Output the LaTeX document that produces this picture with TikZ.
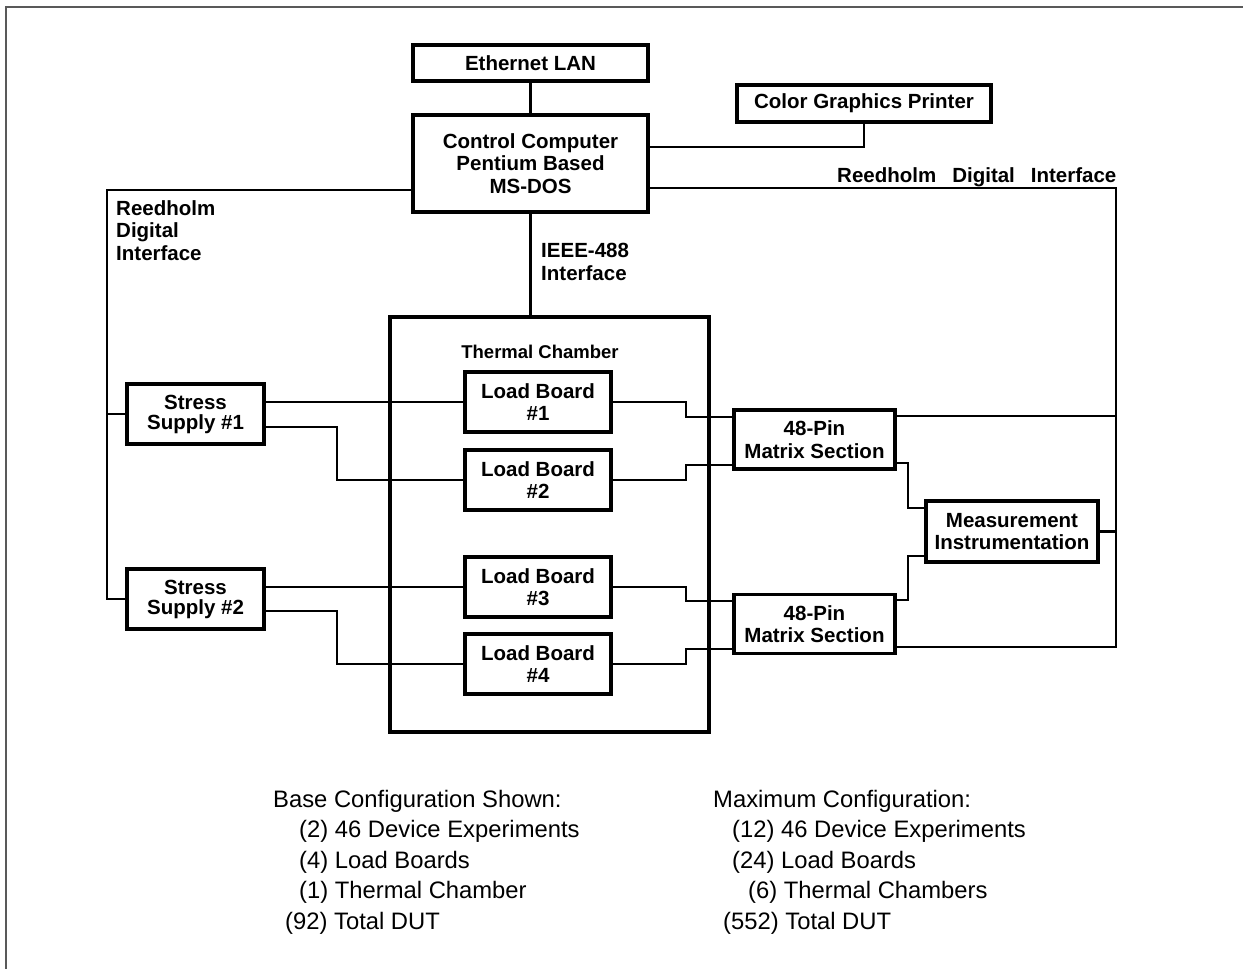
\documentclass[tikz,border=0pt]{standalone}
\usepackage{fontspec}
\setmainfont{Liberation Sans}
\tikzset{
  unit/.style={draw, line width=3.2pt, inner sep=0pt, align=center,
    font=\bfseries\fontsize{20.5}{22.5}\selectfont},
  wire/.style={line width=2.6pt},
  tag/.style={inner sep=0pt, align=left, font=\bfseries\fontsize{20.5}{22.5}\selectfont},
  note/.style={inner sep=0pt, anchor=base west, font=\fontsize{23.8}{28}\selectfont}
}
\begin{document}
\begin{tikzpicture}[x=1pt,y=-1pt]
  \useasboundingbox (0,0) rectangle (1243,969);
  \draw[black!65, line width=1.5pt] (6,969) -- (6,7) -- (1243,7);

  % boxes
  \node[unit, minimum width=235pt, minimum height=36pt] (eth) at (530.5,63) {Ethernet LAN};
  \node[unit, minimum width=235pt, minimum height=97pt] (ctrl) at (530.5,163.5) {Control Computer\\Pentium Based\\MS-DOS};
  \node[unit, minimum width=254pt, minimum height=37pt] (prn) at (864,103.5) {Color Graphics Printer};
  \node[unit, minimum width=319pt, minimum height=415pt] (tc) at (549.5,524.5) {};
  \node[font=\bfseries\fontsize{18.5}{20}\selectfont, inner sep=0pt] (tclabel) at (540,352) {Thermal Chamber};
  \node[unit, minimum width=146pt, minimum height=60pt] (lb1) at (538,402) {Load Board\\\#1};
  \node[unit, minimum width=146pt, minimum height=60pt] (lb2) at (538,480) {Load Board\\\#2};
  \node[unit, minimum width=146pt, minimum height=60pt] (lb3) at (538,587) {Load Board\\\#3};
  \node[unit, minimum width=146pt, minimum height=60pt] (lb4) at (538,664) {Load Board\\\#4};
  \node[unit, minimum width=137pt, minimum height=60pt, font=\bfseries\fontsize{20.5}{20}\selectfont] (ss1) at (195.5,414) {Stress\\Supply \#1};
  \node[unit, minimum width=137pt, minimum height=60pt, font=\bfseries\fontsize{20.5}{20}\selectfont] (ss2) at (195.5,599) {Stress\\Supply \#2};
  \node[unit, minimum width=161pt, minimum height=59pt] (mx1) at (814.5,439.5) {48-Pin\\Matrix Section};
  \node[unit, minimum width=161pt, minimum height=59pt] (mx2) at (814.5,624) {48-Pin\\Matrix Section};
  \node[unit, minimum width=172pt, minimum height=61pt] (meas) at (1012,531.5) {Measurement\\Instrumentation};

  % labels
  \node[tag, anchor=north west] (rdleft) at (116,200) {Reedholm\\Digital\\Interface};
  \node[tag, anchor=base west] (rdright) at (837,182) {Reedholm\hspace{16pt}Digital\hspace{16pt}Interface};
  \node[tag, anchor=north west] (ieee) at (541,243) {IEEE-488\\Interface};

  % bus corners and jogs
  \coordinate (lbus) at (107,190);
  \coordinate (rbus) at (1116,647);
  \coordinate (jl) at (337,0);
  \coordinate (jr) at (686,0);
  \coordinate (jm) at (908,0);

  % connectors
  \draw[wire] (eth) -- (ctrl);
  \draw[wire] (ctrl.east |- 0,147) -| (prn.south);
  \draw[wire] (ctrl) -- (ctrl |- tc.north);
  \draw[wire] (ctrl.east |- 0,188) -| (rbus) -- (mx2.east |- rbus);
  \draw[wire] (mx1.east |- 0,416) -- (rbus |- 0,416);
  \draw[wire] (meas) -- (meas -| rbus);
  \draw[wire] (ctrl.west |- lbus) -- (lbus) |- (ss2);
  \draw[wire] (lbus |- ss1) -- (ss1);
  \draw[wire] (ss1.east |- lb1) -- (lb1);
  \draw[wire] (ss1.east |- 0,427) -| (jl |- lb2) -- (lb2);
  \draw[wire] (ss2.east |- lb3) -- (lb3);
  \draw[wire] (ss2.east |- 0,611) -| (jl |- lb4) -- (lb4);
  \draw[wire] (lb1) -| (jr |- 0,417) -- (mx1.west |- 0,417);
  \draw[wire] (lb2) -| (jr |- 0,465) -- (mx1.west |- 0,465);
  \draw[wire] (lb3) -| (jr |- 0,601) -- (mx2.west |- 0,601);
  \draw[wire] (lb4) -| (jr |- 0,649) -- (mx2.west |- 0,649);
  \draw[wire] (mx1.east |- 0,463) -| (jm |- 0,508) -- (meas.west |- 0,508);
  \draw[wire] (mx2.east |- 0,600) -| (jm |- 0,556) -- (meas.west |- 0,556);

  % configuration notes
  \node[note] (basehead) at (273,807) {Base Configuration Shown:};
  \node[note] (baseexp) at (299,837.5) {(2) 46 Device Experiments};
  \node[note] (baseload) at (299,868) {(4) Load Boards};
  \node[note] (basecham) at (299,898.5) {(1) Thermal Chamber};
  \node[note] (basedut) at (285,929) {(92) Total DUT};
  \node[note] (maxhead) at (713,807) {Maximum Configuration:};
  \node[note] (maxexp) at (732,837.5) {(12) 46 Device Experiments};
  \node[note] (maxload) at (732,868) {(24) Load Boards};
  \node[note] (maxcham) at (748,898.5) {(6) Thermal Chambers};
  \node[note] (maxdut) at (723,929) {(552) Total DUT};
\end{tikzpicture}
\end{document}
